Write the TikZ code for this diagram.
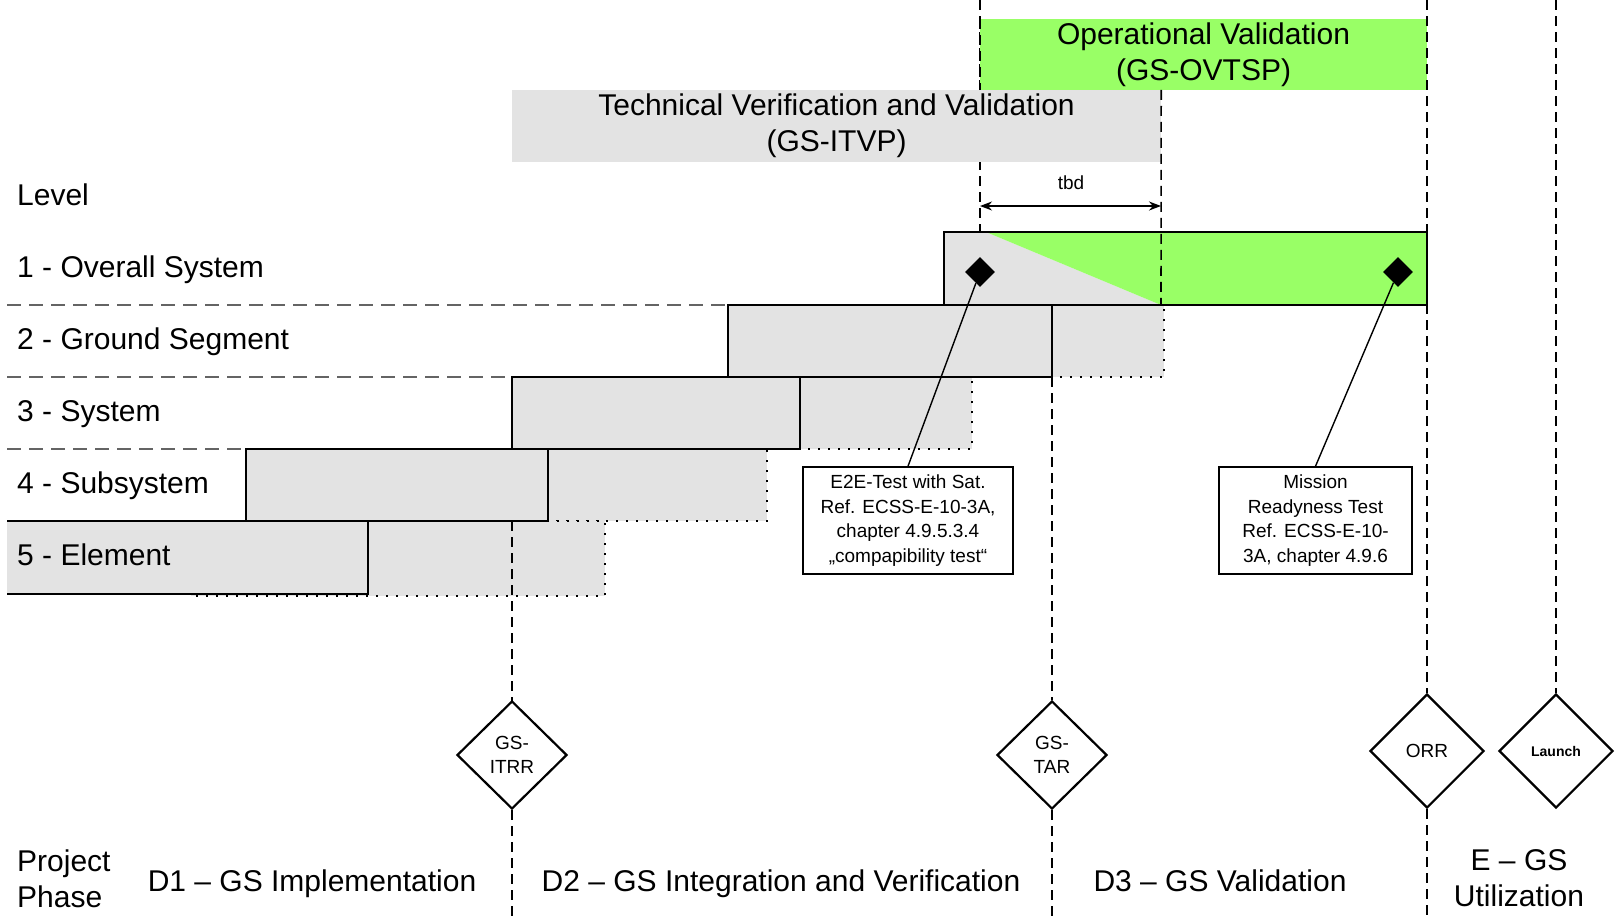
\documentclass[tikz,border=0pt]{standalone}
\usepackage{fontspec}
\setmainfont{Liberation Sans}
\usetikzlibrary{arrows.meta,shapes.geometric}
\definecolor{barGray}{RGB}{227,227,227}
\definecolor{opGreen}{RGB}{153,255,102}
\definecolor{guideGray}{RGB}{100,100,100}
\tikzset{
 big/.style={font=\fontsize{30}{36}\selectfont},
 small/.style={font=\fontsize{19}{24.5}\selectfont},
 lvl/.style={big, anchor=base west, inner sep=0pt},
 phase/.style={big, anchor=base, inner sep=0pt},
 hdrbox/.style={big, align=center, inner sep=0pt},
 guide/.style={line width=1.6pt, dash pattern=on 10pt off 6pt},
 rowsep/.style={guideGray, line width=2.2pt, dash pattern=on 14pt off 8pt},
 solidbar/.style={fill=barGray, draw=black, line width=2.4pt},
 dotbar/.style={fill=barGray, draw=black, line width=2.4pt, dash pattern=on 2.4pt off 7.6pt},
 notebox/.style={small, draw, line width=1.6pt, align=center, inner sep=0pt, minimum height=107pt},
 mile/.style={diamond, draw, fill=white, line width=2.2pt, aspect=1, inner sep=0pt, align=center, font=\fontsize{19}{24}\selectfont},
 keypt/.style={diamond, fill=black, minimum width=30pt, minimum height=30pt, inner sep=0pt},
 leader/.style={line width=1.4pt},
 dimarrow/.style={line width=1.5pt, {Stealth[length=12pt,width=9pt]}-{Stealth[length=12pt,width=9pt]}},
}
\begin{document}
\begin{tikzpicture}[x=1pt,y=-1pt]
\useasboundingbox (0,0) rectangle (1619,916);

% guide hidden behind the grey header
\draw[guide] (980,0) -- (980,232);

% header bars
\node[hdrbox, fill=barGray, minimum width=649pt, minimum height=72pt] (itvp) at (836.5,126) {Technical Verification and Validation\\(GS-ITVP)};
\node[hdrbox, fill=opGreen, minimum width=447pt, minimum height=71pt] (ovt) at (1203.5,54.5) {Operational Validation\\(GS-OVTSP)};
\draw[guide] (ovt.north west) -- (ovt.south west);

% dotted extensions
\draw[dotbar] (1052,305) rectangle (1164,377);
\draw[dotbar] (800,377) rectangle (972,449);
\draw[dotbar] (548,449) rectangle (767,521);
\draw[dotbar] (191,521) rectangle (605,596);

% row separators
\draw[rowsep] (7,305) -- (728,305);
\draw[rowsep] (7,377) -- (512,377);
\draw[rowsep] (7,449) -- (246,449);

% guide line through row 5
\draw[guide] (512,521) -- (512,701);

% solid bars
\fill[barGray] (7,521) rectangle (368,594);
\draw[line width=2.4pt] (7,521) -- (368,521) -- (368,594) -- (7,594);
\draw[solidbar] (246,449) rectangle (548,521);
\draw[solidbar] (512,377) rectangle (800,449);
\draw[solidbar] (728,305) rectangle (1052,377);

% row 1
\fill[barGray] (944,232) -- (986,232) -- (1161,305) -- (944,305) -- cycle;
\fill[opGreen] (986,232) -- (1427,232) -- (1427,305) -- (1161,305) -- cycle;

% milestones
\node[mile, minimum width=110pt, minimum height=108pt] (itrr) at (512,755) {GS-\\ITRR};
\node[mile, minimum width=110pt, minimum height=108pt] (tar) at (1052,755) {GS-\\TAR};
\node[mile, minimum width=114pt, minimum height=114pt] (orr) at (1427,751) {ORR};
\node[mile, minimum width=114pt, minimum height=114pt, font=\bfseries\fontsize{14}{17}\selectfont] (launch) at (1556,751) {Launch};

% vertical guides
\draw[guide] (itvp.north east) -- (1161,305);
\draw[guide] (1427,0) -- (orr.north);
\draw[guide] (1556,0) -- (launch.north);
\draw[guide] (1052,377) -- (tar.north);
\draw[guide] (itrr.south) -- (512,916);
\draw[guide] (tar.south) -- (1052,916);
\draw[guide] (orr.south) -- (1427,916);

\draw[line width=2.4pt] (944,232) rectangle (1427,305);

% tbd
\coordinate (tbdL) at (980,206);
\coordinate (tbdR) at (1161,206);
\draw[dimarrow] (tbdL) -- (tbdR);
\node[small, inner sep=0pt] (tbd) at (1071,183) {tbd};

% key points and notes
\node[keypt] (k1) at (980,272) {};
\node[keypt] (k2) at (1398,272) {};
\node[notebox, minimum width=210pt] (e2e) at (908,520.5) {E2E-Test with Sat.\\Ref. ECSS-E-10-3A,\\chapter 4.9.5.3.4\\„compapibility test“};
\node[notebox, minimum width=193pt] (mrt) at (1315.5,520.5) {Mission\\Readyness Test\\Ref. ECSS-E-10-\\3A, chapter 4.9.6};
\draw[leader] (e2e.north) -- (k1);
\draw[leader] (mrt.north) -- (k2);

% level labels
\node[lvl] (lv0) at (17,205) {Level};
\node[lvl] (lv1) at (17,277) {1 - Overall System};
\node[lvl] (lv2) at (17,349) {2 - Ground Segment};
\node[lvl] (lv3) at (17,421) {3 - System};
\node[lvl] (lv4) at (17,493) {4 - Subsystem};
\node[lvl] (lv5) at (17,565) {5 - Element};

% phases
\node[big, anchor=north west, align=left, inner sep=0pt] (pp) at (17,849.5) {Project\\Phase};
\node[phase] (d1) at (312,891) {D1 – GS Implementation};
\node[phase] (d2) at (781,891) {D2 – GS Integration and Verification};
\node[phase] (d3) at (1220,891) {D3 – GS Validation};
\node[big, anchor=north, align=center, inner sep=0pt] (egs) at (1519,849.5) {E – GS\\Utilization};
\end{tikzpicture}
\end{document}
